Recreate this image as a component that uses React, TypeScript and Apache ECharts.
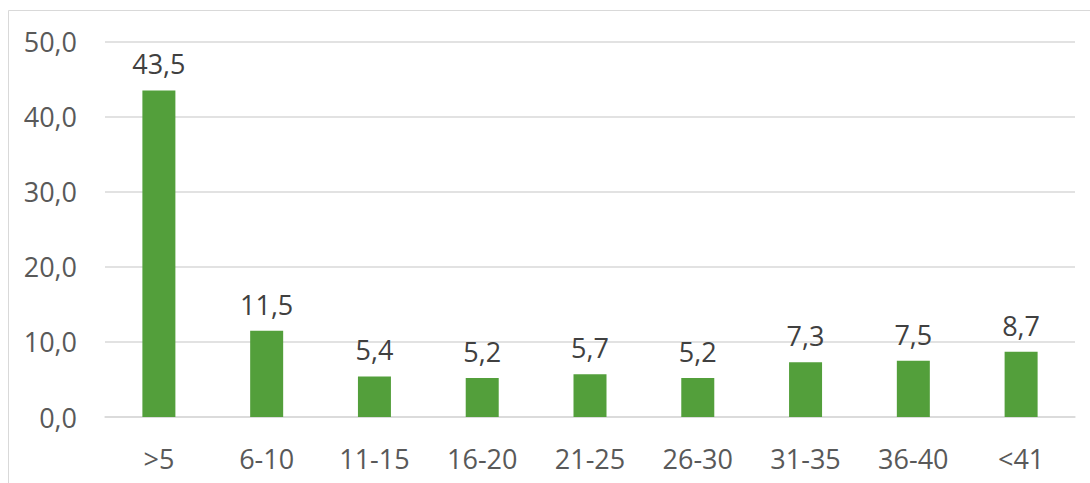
import React, { useEffect, useRef } from "react";
import * as echarts from "echarts";

const categories = [">5", "6-10", "11-15", "16-20", "21-25", "26-30", "31-35", "36-40", "<41"];
const values = [43.5, 11.5, 5.4, 5.2, 5.7, 5.2, 7.3, 7.5, 8.7];
const yTicks = { min: 0, max: 50, interval: 10 };

const fmt = (v: number) => v.toFixed(1).replace(".", ",");

export default function App() {
  const ref = useRef<HTMLDivElement>(null);
  useEffect(() => {
    if (!ref.current) return;
    const chart = echarts.init(ref.current, null, { renderer: "svg" });
    const font = "'Open Sans', 'Liberation Sans', sans-serif";
    chart.setOption({
      animation: false,
      backgroundColor: "#ffffff",
      graphic: [
        {
          type: "rect",
          shape: { x: 8.5, y: 10.5, width: 1200, height: 600 },
          style: { fill: "none", stroke: "#D9D9D9", lineWidth: 1 },
          silent: true,
        },
      ],
      grid: { left: 105, right: 15, top: 41.7, bottom: 66, containLabel: false },
      xAxis: {
        type: "category",
        data: categories,
        axisLine: { show: true, lineStyle: { color: "#D9D9D9", width: 1.5 } },
        axisTick: { show: false },
        axisLabel: { color: "#595959", fontSize: 27, fontFamily: font, margin: 28 },
      },
      yAxis: {
        type: "value",
        min: yTicks.min,
        max: yTicks.max,
        interval: yTicks.interval,
        axisLine: { show: false },
        axisTick: { show: false },
        splitLine: { lineStyle: { color: "#D9D9D9", width: 1.5 } },
        axisLabel: {
          color: "#595959",
          fontSize: 27,
          fontFamily: font,
          margin: 28,
          formatter: (v: number) => fmt(v),
        },
      },
      series: [
        {
          type: "bar",
          data: values,
          barWidth: 33,
          itemStyle: { color: "#539F3B" },
          label: {
            show: true,
            position: "top",
            distance: 13,
            color: "#404040",
            fontSize: 27,
            fontFamily: font,
            formatter: (p: any) => fmt(p.value),
          },
        },
      ],
    });
    return () => chart.dispose();
  }, []);
  return (
    <div
      ref={ref}
      style={{ position: "fixed", left: 0, top: 0, width: 1090, height: 483 }}
    />
  );
}
